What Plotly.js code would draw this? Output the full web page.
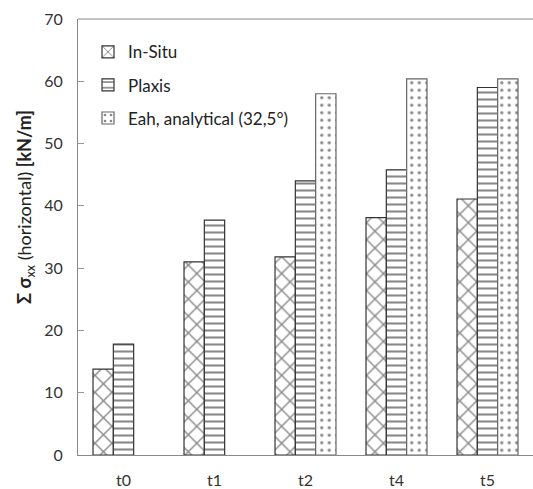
<!DOCTYPE html>
<html><head><meta charset="utf-8">
<script src="https://cdn.plot.ly/plotly-3.0.1.min.js"></script>
<style>html,body{margin:0;padding:0;background:#fff}</style>
</head><body>
<div id="chart" style="width:533px;height:489px"></div>
<script>
const categories = ["t0", "t1", "t2", "t4", "t5"];
const inSitu = [13.8, 31.0, 31.8, 38.1, 41.1];
const plaxis = [17.8, 37.7, 44.0, 45.8, 59.0];
const eah = [null, null, 58.0, 60.4, 60.4];
const seriesNames = ["In-Situ", "Plaxis", "Eah, analytical (32,5°)"];
const yTicks = [0, 10, 20, 30, 40, 50, 60, 70];
const yTitle = "<b>Σ σ</b><sub>xx</sub> (horizontal) <b>[kN/m]</b>";

function bar(name, y, shape, size, solidity, grp, lc) {
  return {
    type: "bar", name: name, x: categories, y: y, legendgroup: grp,
    marker: {
      color: "#ffffff",
      line: {color: lc, width: 1.2},
      pattern: {shape: shape, size: size, solidity: solidity, fgcolor: "#111111", bgcolor: "#ffffff", fillmode: "overlay"}
    }
  };
}
const data = [
  bar(seriesNames[0], inSitu, "x", 12, 0.22, "a", "#333"),
  bar(seriesNames[1], plaxis, "-", 7, 0.3, "b", "#333"),
  bar(seriesNames[2], eah, ".", 7.5, 0.16, "c", "#666")
];
const layout = {
  width: 533, height: 489,
  margin: {l: 78, r: 0, t: 19, b: 34},
  paper_bgcolor: "#fff", plot_bgcolor: "#fff",
  font: {family: "Lato, 'Liberation Sans', sans-serif", size: 15, color: "#333"},
  barmode: "group", bargap: 0.33, bargroupgap: 0,
  showlegend: true,
  legend: {x: 0.022, y: 0.965, xanchor: "left", yanchor: "top", bgcolor: "rgba(0,0,0,0)",
           font: {size: 17, color: "#222"}, tracegroupgap: 8, itemwidth: 30, traceorder: "grouped"},
  xaxis: {type: "category", showgrid: false, showline: true, linecolor: "#888", linewidth: 1,
          ticks: "", tickfont: {size: 16, color: "#333"}, ticklabelstandoff: 11, fixedrange: true},
  yaxis: {range: [0, 70], tickvals: yTicks, showgrid: false, zeroline: false,
          showline: true, linecolor: "#888", linewidth: 1, ticks: "inside", ticklen: 6, tickcolor: "#999",
          tickfont: {size: 16, color: "#333"}, ticklabelstandoff: 11},
  annotations: [{text: yTitle, xref: "paper", yref: "paper", x: -52 / 455, y: 0.569,
                 xanchor: "center", yanchor: "middle", textangle: -90, showarrow: false,
                 font: {size: 18, color: "#222"}}],
  shapes: [{type: "line", xref: "paper", yref: "paper", x0: 0, x1: 1, y0: 1, y1: 1, line: {color: "#888", width: 1}}]
};
Plotly.newPlot("chart", data, layout, {displayModeBar: false, staticPlot: true});
</script>
</body></html>
